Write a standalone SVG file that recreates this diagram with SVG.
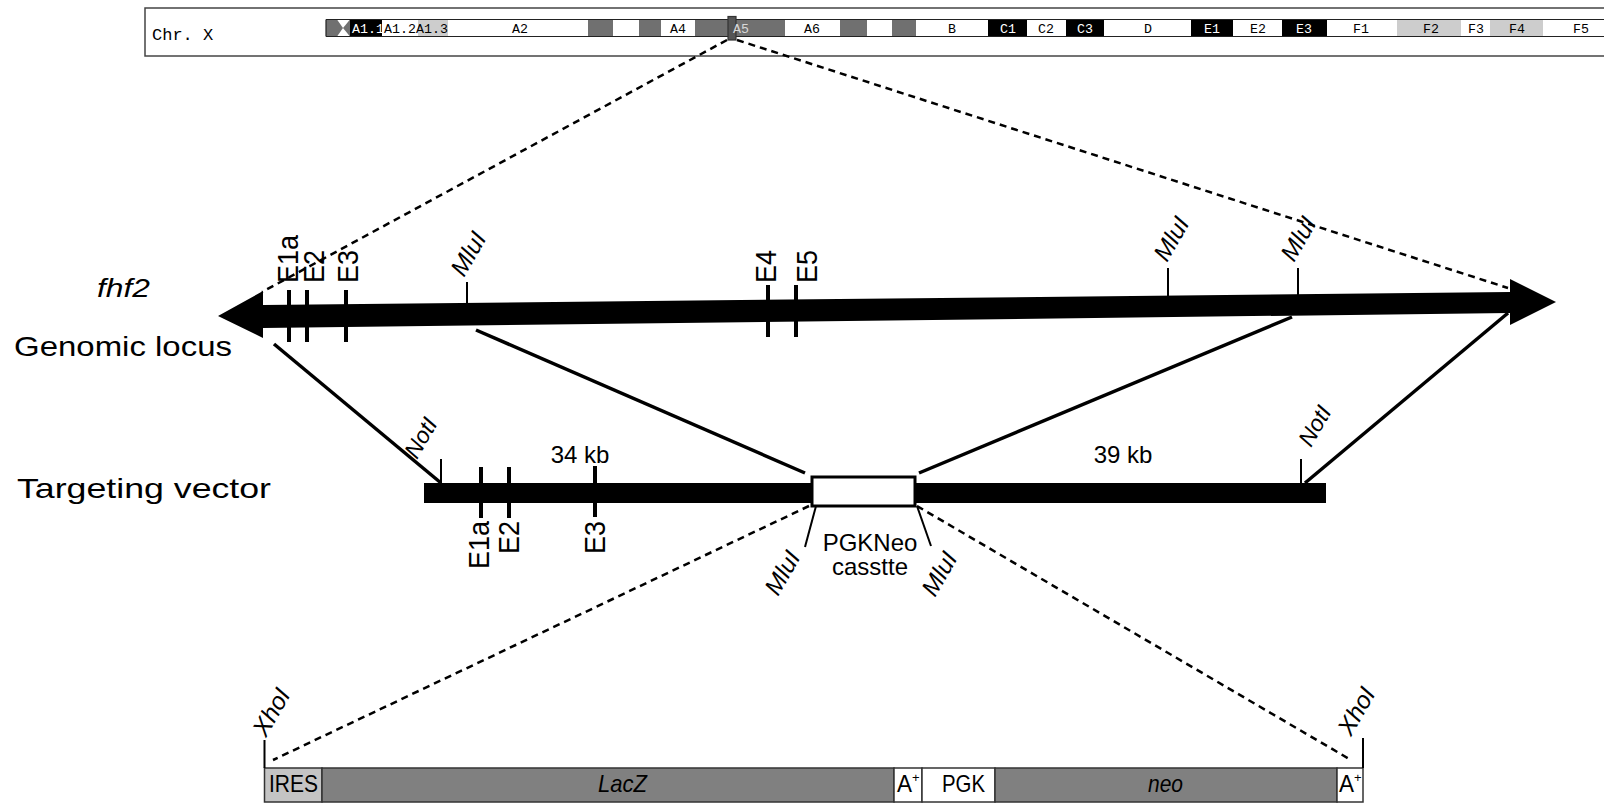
<svg xmlns="http://www.w3.org/2000/svg" width="1604" height="804" viewBox="0 0 1604 804">
  <style>
    .sans { font-family: "Liberation Sans", Arial, sans-serif; fill: #000; }
    .it { font-style: italic; }
    .mono { font-family: "Liberation Mono", "DejaVu Sans Mono", monospace; font-size: 13.3px; text-anchor: middle; }
    .band { stroke: none; }
    .dark { fill: #707070; }
    .light { fill: #cdcdcd; }
    .blk { fill: #000; }
    .wht { fill: #fff; }
    .dash { fill: none; stroke: #000; stroke-width: 2.5; stroke-dasharray: 7 5; }
    .link { fill: none; stroke: #000; stroke-width: 3.5; }
    .exon { stroke: #000; stroke-width: 4; }
    .site { stroke: #000; stroke-width: 2; }
    .exlbl { font-size: 27px; }
    .enz { font-size: 24.5px; font-style: italic; }
    .cell { stroke: #333; stroke-width: 1.5; }
  </style>

  <!-- Chromosome X ideogram -->
  <g id="chromosome">
    <rect x="145" y="8" width="1470" height="48" fill="#fff" stroke="#444" stroke-width="1.5"/>
    <text class="mono" x="152" y="40" style="font-size:17px;text-anchor:start">Chr. X</text>
    <!-- bands -->
    <rect class="band wht" x="350" y="19.5" width="1260" height="17"/>
    <polygon class="dark" points="326,19.5 337,19.5 343,28 337,36.5 326,36.5"/>
    <polygon class="dark" points="343,28 350,19.5 350,36.5"/>
    <rect class="band blk" x="350" y="19.5" width="32" height="17"/>
    <rect class="band light" x="418" y="19.5" width="30" height="17"/>
    <rect class="band dark" x="588" y="19.5" width="25" height="17"/>
    <rect class="band dark" x="639" y="19.5" width="22" height="17"/>
    <rect class="band dark" x="695" y="19.5" width="90" height="17"/>
    <rect class="band dark" x="840" y="19.5" width="27" height="17"/>
    <rect class="band dark" x="892" y="19.5" width="24" height="17"/>
    <rect class="band blk" x="988" y="19.5" width="39" height="17"/>
    <rect class="band blk" x="1066" y="19.5" width="38" height="17"/>
    <rect class="band blk" x="1191" y="19.5" width="42" height="17"/>
    <rect class="band blk" x="1282" y="19.5" width="45" height="17"/>
    <rect class="band light" x="1397" y="19.5" width="64" height="17"/>
    <rect class="band light" x="1490" y="19.5" width="53" height="17"/>
    <!-- outline -->
    <path d="M326,19.5 H1610 M326,36.5 H1610 M326,19.5 V36.5" fill="none" stroke="#222" stroke-width="1.2"/>
    <!-- selected band A5 -->
    <rect x="728" y="16.5" width="8" height="23.5" fill="#555" stroke="#333" stroke-width="1.2"/>
    <!-- band names -->
    <text class="mono" x="368" y="33" fill="#fff">A1.1</text>
    <text class="mono" x="400" y="33">A1.2</text>
    <text class="mono" x="432" y="33">A1.3</text>
    <text class="mono" x="520" y="33">A2</text>
    <text class="mono" x="678" y="33">A4</text>
    <text class="mono" x="741" y="33" fill="#d8d8d8">A5</text>
    <text class="mono" x="812" y="33">A6</text>
    <text class="mono" x="952" y="33">B</text>
    <text class="mono" x="1008" y="33" fill="#fff">C1</text>
    <text class="mono" x="1046" y="33">C2</text>
    <text class="mono" x="1085" y="33" fill="#fff">C3</text>
    <text class="mono" x="1148" y="33">D</text>
    <text class="mono" x="1212" y="33" fill="#fff">E1</text>
    <text class="mono" x="1258" y="33">E2</text>
    <text class="mono" x="1304" y="33" fill="#fff">E3</text>
    <text class="mono" x="1361" y="33">F1</text>
    <text class="mono" x="1431" y="33">F2</text>
    <text class="mono" x="1476" y="33">F3</text>
    <text class="mono" x="1517" y="33">F4</text>
    <text class="mono" x="1581" y="33">F5</text>
  </g>

  <!-- Row titles -->
  <g id="titles">
    <text class="sans it" x="97" y="297" font-size="25" textLength="53" lengthAdjust="spacingAndGlyphs">fhf2</text>
    <text class="sans" x="14" y="356" font-size="28" textLength="218" lengthAdjust="spacingAndGlyphs">Genomic locus</text>
    <text class="sans" x="17" y="498" font-size="28" textLength="254" lengthAdjust="spacingAndGlyphs">Targeting vector</text>
  </g>

  <!-- Connectors between levels -->
  <g id="connectors">
    <line class="dash" x1="727" y1="40" x2="262" y2="292"/>
    <line class="dash" x1="737" y1="40" x2="1508" y2="288"/>
    <line class="link" x1="274" y1="344" x2="441" y2="483"/>
    <line class="link" x1="476" y1="330" x2="805" y2="473"/>
    <line class="link" x1="1292" y1="317" x2="919" y2="473"/>
    <line class="link" x1="1508" y1="313" x2="1305" y2="483"/>
    <line class="dash" x1="809" y1="506" x2="273" y2="760"/>
    <line class="dash" x1="917" y1="506" x2="1351" y2="760"/>
  </g>

  <!-- Genomic locus -->
  <g id="genomic-locus">
    <polygon fill="#000" points="218,316 263,291 263,305 1510,292 1510,279 1556,302 1510,325 1510,313 263,328 263,338"/>
    <line class="exon" x1="289" y1="290" x2="289" y2="342"/>
    <line class="exon" x1="307" y1="290" x2="307" y2="342"/>
    <line class="exon" x1="346" y1="290" x2="346" y2="342"/>
    <line class="exon" x1="768" y1="285" x2="768" y2="337"/>
    <line class="exon" x1="796" y1="285" x2="796" y2="337"/>
    <line class="site" x1="467" y1="282" x2="467" y2="305"/>
    <line class="site" x1="1168" y1="268" x2="1168" y2="297"/>
    <line class="site" x1="1298" y1="268" x2="1298" y2="295"/>
    <text class="sans exlbl" transform="translate(298,283) rotate(-90) scale(1,1.1)">E1a</text>
    <text class="sans exlbl" transform="translate(324,283) rotate(-90) scale(1,1.1)">E2</text>
    <text class="sans exlbl" transform="translate(358,283) rotate(-90) scale(1,1.1)">E3</text>
    <text class="sans exlbl" transform="translate(776,283) rotate(-90) scale(1,1.1)">E4</text>
    <text class="sans exlbl" transform="translate(817,283) rotate(-90) scale(1,1.1)">E5</text>
    <text class="sans enz" transform="translate(464,278) rotate(-60)">MluI</text>
    <text class="sans enz" transform="translate(1167,263) rotate(-60)">MluI</text>
    <text class="sans enz" transform="translate(1294,263) rotate(-60)">MluI</text>
  </g>

  <!-- Targeting vector -->
  <g id="targeting-vector">
    <rect x="424" y="483" width="902" height="20" fill="#000"/>
    <line class="site" x1="441" y1="459" x2="441" y2="484"/>
    <line class="site" x1="1301" y1="459" x2="1301" y2="484"/>
    <line class="exon" x1="481" y1="467" x2="481" y2="518"/>
    <line class="exon" x1="509" y1="467" x2="509" y2="518"/>
    <line class="exon" x1="595" y1="466" x2="595" y2="517"/>
    <text class="sans exlbl" text-anchor="end" transform="translate(489,521) rotate(-90) scale(1,1.1)">E1a</text>
    <text class="sans exlbl" text-anchor="end" transform="translate(519,521) rotate(-90) scale(1,1.1)">E2</text>
    <text class="sans exlbl" text-anchor="end" transform="translate(605,521) rotate(-90) scale(1,1.1)">E3</text>
    <text class="sans" x="580" y="463" font-size="24" text-anchor="middle">34 kb</text>
    <text class="sans" x="1123" y="463" font-size="24" text-anchor="middle">39 kb</text>
    <text class="sans enz" style="font-size:23px" transform="translate(417,460) rotate(-60)">NotI</text>
    <text class="sans enz" style="font-size:23px" transform="translate(1311,448) rotate(-60)">NotI</text>
  </g>

  <!-- PGKNeo cassette -->
  <g id="cassette">
    <rect x="812" y="477" width="103" height="29" fill="#fff" stroke="#000" stroke-width="3"/>
    <line class="site" x1="816" y1="506" x2="805" y2="547"/>
    <line class="site" x1="917" y1="506" x2="931" y2="546"/>
    <text class="sans" x="870" y="551" font-size="24" text-anchor="middle">PGKNeo</text>
    <text class="sans" x="870" y="575" font-size="24" text-anchor="middle">casstte</text>
    <text class="sans enz" transform="translate(778,597) rotate(-60)">MluI</text>
    <text class="sans enz" transform="translate(935,598) rotate(-60)">MluI</text>
  </g>

  <!-- Cassette detail -->
  <g id="cassette-map">
    <rect class="cell" x="264.5" y="768" width="57.5" height="34" fill="#c4c4c4"/>
    <rect class="cell" x="322" y="768" width="572" height="34" fill="#808080"/>
    <rect class="cell" x="894" y="768" width="28" height="34" fill="#fff"/>
    <rect class="cell" x="922" y="768" width="73" height="34" fill="#fff"/>
    <rect class="cell" x="995" y="768" width="342" height="34" fill="#808080"/>
    <rect class="cell" x="1337" y="768" width="26" height="34" fill="#fff"/>
    <line class="site" x1="264.5" y1="740" x2="264.5" y2="768" stroke-width="1.5"/>
    <line class="site" x1="1363" y1="738" x2="1363" y2="768" stroke-width="1.5"/>
    <text class="sans enz" transform="translate(266,738) rotate(-60)">XhoI</text>
    <text class="sans enz" transform="translate(1351,737) rotate(-60)">XhoI</text>
    <text class="sans" x="269" y="792" font-size="24" textLength="49" lengthAdjust="spacingAndGlyphs">IRES</text>
    <text class="sans it" x="598" y="792" font-size="24" textLength="49" lengthAdjust="spacingAndGlyphs">LacZ</text>
    <text class="sans" x="897" y="792" font-size="24" textLength="15" lengthAdjust="spacingAndGlyphs">A</text>
    <text class="sans" x="912" y="782" font-size="13">+</text>
    <text class="sans" x="942" y="792" font-size="24" textLength="43" lengthAdjust="spacingAndGlyphs">PGK</text>
    <text class="sans it" x="1148" y="792" font-size="24" textLength="35" lengthAdjust="spacingAndGlyphs">neo</text>
    <text class="sans" x="1339" y="792" font-size="24" textLength="15" lengthAdjust="spacingAndGlyphs">A</text>
    <text class="sans" x="1354" y="782" font-size="13">+</text>
  </g>
</svg>
